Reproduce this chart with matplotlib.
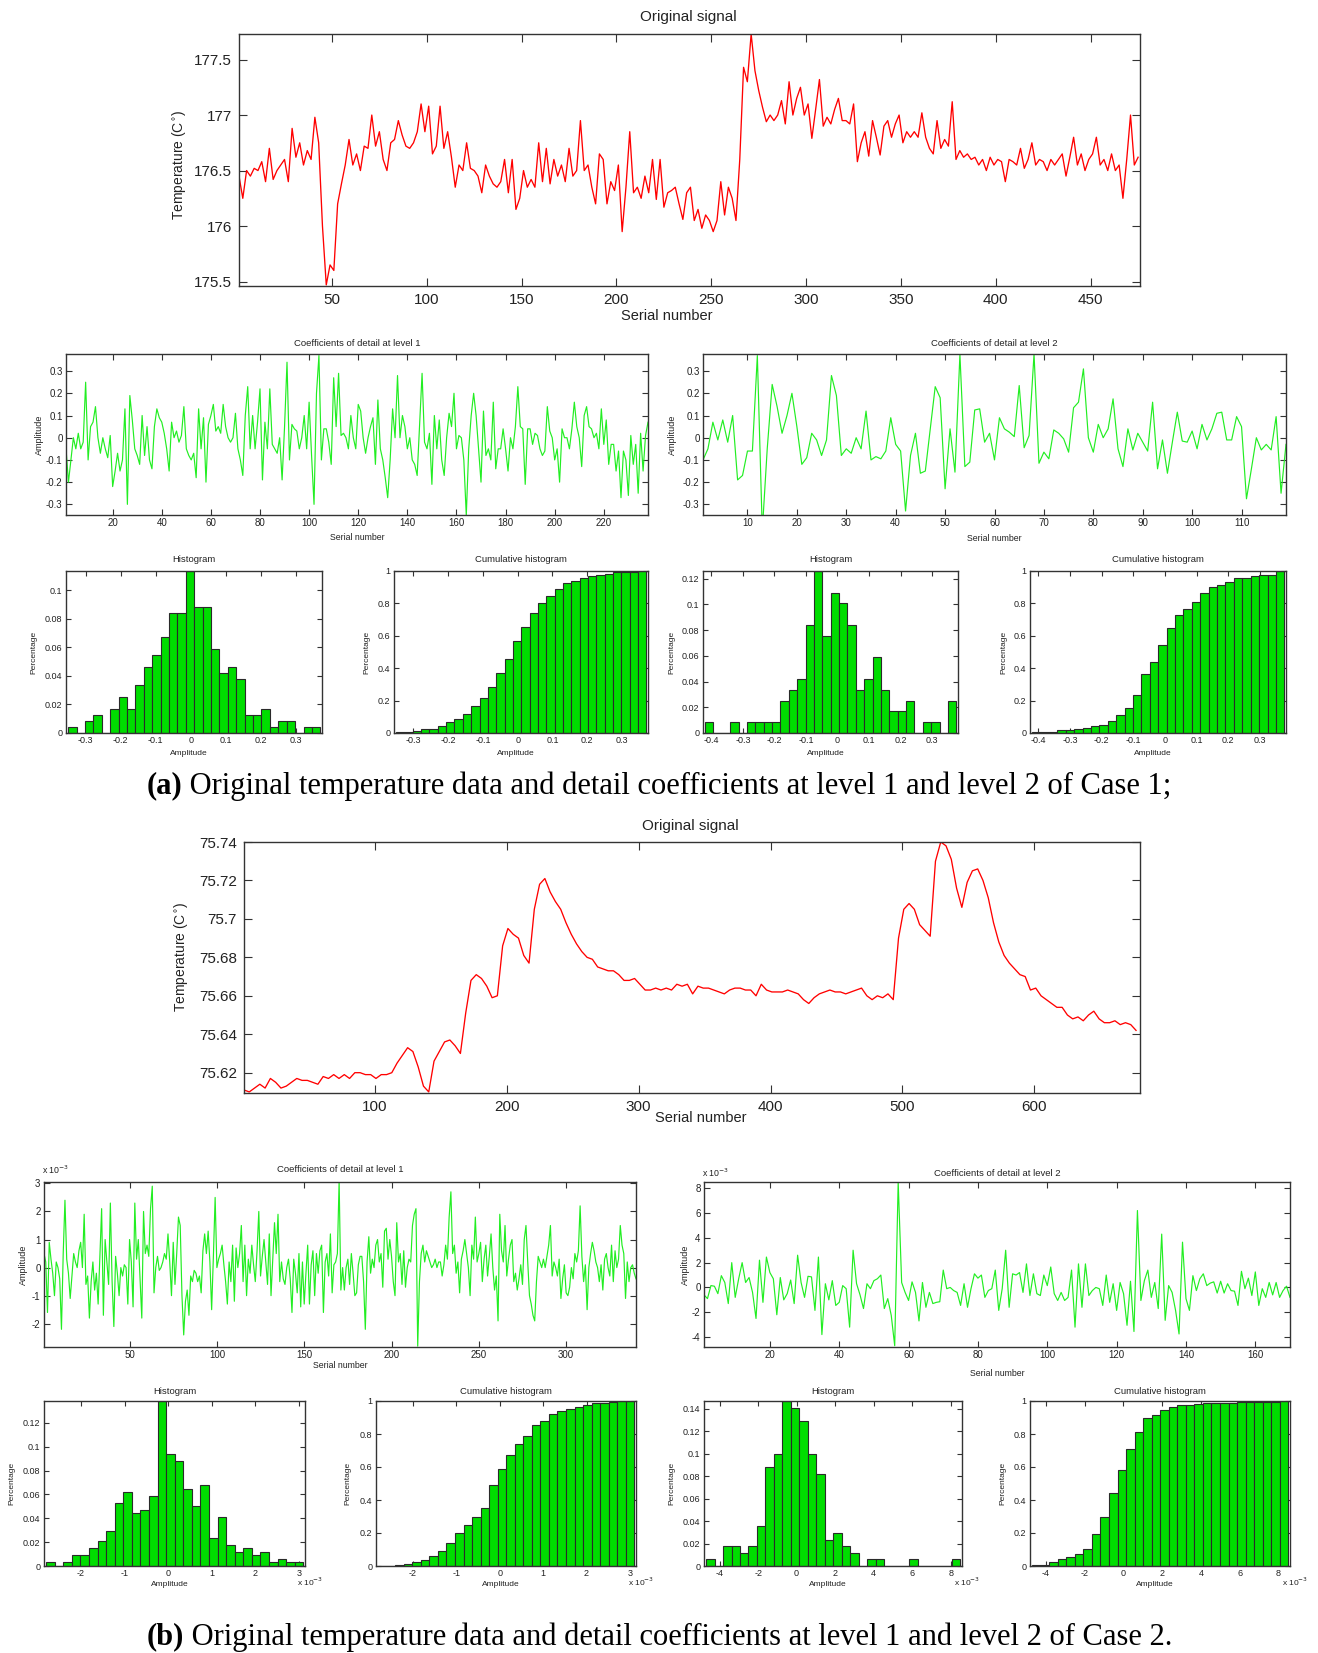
import numpy as np
import matplotlib
matplotlib.use('Agg')
import matplotlib.pyplot as plt
from matplotlib.ticker import FixedLocator, FuncFormatter

# ---------------- data ----------------
# Case 1 original signal, sampled every 2nd point starting at serial 1
orig_a = [
    176.45, 176.25, 176.50, 176.45, 176.52, 176.50, 176.58, 176.40, 176.70, 176.42,
    176.50, 176.55, 176.60, 176.40, 176.88, 176.62, 176.75, 176.55, 176.68, 176.60,
    176.98, 176.75, 176.00, 175.47, 175.65, 175.60, 176.20, 176.38, 176.55, 176.78,
    176.55, 176.65, 176.50, 176.72, 176.70, 177.00, 176.72, 176.85, 176.60, 176.50,
    176.75, 176.78, 176.95, 176.82, 176.72, 176.70, 176.75, 176.85, 177.10, 176.85,
    177.08, 176.65, 176.72, 177.08, 176.70, 176.85, 176.62, 176.35, 176.55, 176.50,
    176.75, 176.52, 176.50, 176.45, 176.30, 176.55, 176.45, 176.38, 176.35, 176.40,
    176.60, 176.30, 176.60, 176.15, 176.25, 176.50, 176.35, 176.42, 176.35, 176.75,
    176.40, 176.70, 176.38, 176.60, 176.45, 176.55, 176.40, 176.70, 176.45, 176.50,
    176.95, 176.50, 176.55, 176.35, 176.20, 176.65, 176.60, 176.20, 176.40, 176.32,
    176.55, 175.95, 176.35, 176.85, 176.30, 176.35, 176.25, 176.45, 176.30, 176.60,
    176.24, 176.60, 176.17, 176.30, 176.32, 176.35, 176.20, 176.06, 176.30, 176.35,
    176.05, 176.15, 175.98, 176.10, 176.05, 175.95, 176.05, 176.40, 176.10, 176.35,
    176.25, 176.05, 176.60, 177.43, 177.30, 177.73, 177.40, 177.22, 177.07, 176.94,
    177.00, 176.95, 177.00, 177.13, 176.92, 177.30, 177.00, 177.15, 177.25, 177.00,
    177.10, 176.79, 177.05, 177.32, 176.90, 176.98, 176.92, 177.05, 177.15, 176.95,
    176.95, 176.92, 177.10, 176.58, 176.75, 176.85, 176.63, 176.95, 176.80, 176.64,
    176.90, 176.95, 176.80, 176.92, 177.00, 176.75, 176.85, 176.80, 176.85, 176.80,
    177.02, 176.80, 176.70, 176.65, 176.95, 176.70, 176.78, 176.72, 177.12, 176.60,
    176.68, 176.62, 176.65, 176.60, 176.62, 176.55, 176.60, 176.50, 176.62, 176.55,
    176.60, 176.58, 176.40, 176.60, 176.58, 176.55, 176.70, 176.52, 176.60, 176.75,
    176.55, 176.60, 176.58, 176.50, 176.60, 176.55, 176.60, 176.65, 176.45, 176.62,
    176.80, 176.55, 176.65, 176.50, 176.60, 176.65, 176.80, 176.55, 176.60, 176.50,
    176.65, 176.50, 176.55, 176.25, 176.60, 177.00, 176.55, 176.62,
]
n_orig_a = 476

# Case 1 detail coefficients, level 1 (238) and level 2 (119)
d1_a = [
    -0.05, -0.20, -0.10, 0.00, -0.05, 0.02, -0.05, -0.02, 0.25, -0.10,
    0.05, 0.07, 0.14, 0.00, -0.07, 0.00, -0.05, -0.09, 0.01, -0.22,
    -0.15, -0.07, -0.15, -0.10, 0.13, -0.30, 0.19, 0.08, -0.05, -0.08,
    -0.12, 0.10, -0.08, 0.05, -0.10, -0.14, 0.05, 0.13, 0.09, 0.07,
    0.02, -0.05, -0.15, 0.07, 0.00, 0.03, -0.02, 0.01, 0.14, -0.05,
    -0.08, -0.10, -0.07, -0.18, 0.13, -0.05, 0.09, -0.20, 0.06, 0.10,
    0.15, 0.03, 0.05, 0.02, 0.15, 0.05, 0.00, -0.02, 0.00, 0.11,
    -0.05, -0.10, -0.17, 0.10, 0.23, -0.05, 0.10, -0.05, 0.07, 0.22,
    -0.19, 0.07, -0.05, 0.22, -0.03, -0.05, -0.07, 0.00, -0.19, 0.05,
    0.34, -0.10, 0.06, 0.04, 0.03, -0.05, 0.00, 0.10, -0.05, 0.16,
    -0.08, -0.30, 0.20, 0.37, -0.10, 0.04, 0.04, -0.02, -0.12, 0.27,
    0.05, 0.29, 0.01, 0.02, 0.00, -0.05, 0.10, 0.00, -0.05, 0.15,
    0.12, 0.00, -0.07, 0.00, 0.05, 0.09, -0.12, 0.17, -0.05, -0.10,
    -0.18, -0.27, -0.10, 0.13, 0.00, 0.28, 0.00, 0.10, 0.05, -0.05,
    0.00, -0.10, -0.12, -0.17, 0.06, 0.29, -0.02, -0.05, 0.02, -0.21,
    0.10, -0.05, 0.08, -0.10, -0.17, 0.00, 0.11, 0.05, 0.20, -0.05,
    0.01, 0.00, -0.10, -0.35, -0.05, 0.10, 0.20, 0.10, -0.05, -0.20,
    0.12, -0.08, -0.05, -0.10, 0.16, -0.14, -0.05, -0.05, 0.04, -0.05,
    -0.15, 0.00, -0.05, 0.05, 0.23, 0.05, 0.04, -0.21, 0.04, 0.04,
    -0.03, 0.02, 0.01, -0.05, -0.08, -0.06, 0.14, 0.03, 0.00, -0.10,
    -0.05, -0.20, 0.04, 0.00, 0.00, -0.05, 0.04, 0.16, 0.05, 0.00,
    -0.13, 0.10, 0.14, 0.05, 0.04, 0.00, 0.02, -0.05, 0.13, -0.03,
    0.08, -0.12, -0.03, -0.03, -0.15, -0.06, -0.27, -0.06, -0.10, -0.26,
    0.01, -0.12, -0.03, -0.25, 0.02, -0.15, 0.01, 0.07,
]
d2_a = [
    -0.10, -0.05, 0.07, -0.01, 0.08, -0.02, 0.10, -0.19, -0.17, -0.06,
    -0.06, 0.37, -0.42, -0.05, 0.24, 0.14, 0.02, 0.10, 0.20, 0.05,
    -0.12, -0.09, 0.02, -0.01, -0.08, -0.01, 0.28, 0.19, -0.08, -0.05,
    -0.07, 0.00, -0.05, 0.12, -0.10, -0.085, -0.095, -0.06, 0.09, -0.03,
    -0.06, -0.33, -0.08, 0.02, -0.16, -0.15, 0.04, 0.23, 0.18, -0.23,
    0.04, -0.155, 0.375, -0.13, -0.11, 0.125, 0.13, -0.02, 0.02, -0.10,
    0.09, 0.04, 0.025, 0.005, 0.235, -0.045, 0.01, 0.377, -0.115, -0.065,
    -0.095, 0.035, 0.02, -0.005, -0.065, 0.135, 0.16, 0.31, 0.00, -0.065,
    0.06, 0.00, 0.04, 0.175, -0.05, -0.13, 0.04, -0.055, 0.02, -0.02,
    -0.06, 0.16, -0.14, -0.01, -0.16, -0.02, 0.115, -0.015, -0.02, 0.03,
    -0.05, 0.06, -0.01, 0.04, 0.11, 0.115, -0.01, -0.01, 0.095, 0.05,
    -0.275, -0.14, 0.00, -0.055, -0.03, -0.055, 0.095, -0.25, -0.03,
]

# Case 1 histogram counts (30 bins between min and max of each detail series)
h1_a_counts = [1, 0, 2, 3, 0, 4, 6, 4, 8, 11, 13, 16, 20, 20, 27,
               21, 21, 14, 10, 11, 9, 3, 3, 4, 1, 2, 2, 0, 1, 1]
h2_a_counts = [1, 0, 0, 1, 0, 1, 1, 1, 1, 3, 4, 5, 10, 15, 9,
               13, 12, 10, 4, 5, 7, 4, 2, 2, 3, 0, 1, 1, 0, 3]

# Case 2 original signal, sampled every 4th point starting at serial 1
orig_b = [
    75.611, 75.610, 75.612, 75.614, 75.612, 75.617, 75.615, 75.612, 75.613, 75.615,
    75.617, 75.616, 75.616, 75.615, 75.614, 75.618, 75.617, 75.619, 75.617, 75.619,
    75.617, 75.620, 75.620, 75.619, 75.619, 75.617, 75.619, 75.619, 75.620, 75.625,
    75.629, 75.633, 75.631, 75.623, 75.613, 75.610, 75.626, 75.631, 75.636, 75.637,
    75.634, 75.630, 75.651, 75.668, 75.671, 75.669, 75.665, 75.659, 75.660, 75.686,
    75.695, 75.692, 75.690, 75.681, 75.677, 75.705, 75.718, 75.721, 75.714, 75.709,
    75.705, 75.698, 75.692, 75.687, 75.683, 75.680, 75.679, 75.675, 75.674, 75.673,
    75.673, 75.671, 75.668, 75.668, 75.669, 75.666, 75.663, 75.663, 75.664, 75.663,
    75.664, 75.663, 75.666, 75.665, 75.666, 75.661, 75.665, 75.664, 75.664, 75.663,
    75.662, 75.661, 75.663, 75.664, 75.664, 75.663, 75.663, 75.660, 75.666, 75.663,
    75.662, 75.662, 75.662, 75.663, 75.662, 75.661, 75.658, 75.656, 75.659, 75.661,
    75.662, 75.663, 75.662, 75.662, 75.661, 75.662, 75.663, 75.664, 75.660, 75.658,
    75.660, 75.659, 75.661, 75.658, 75.690, 75.705, 75.708, 75.705, 75.697, 75.694,
    75.691, 75.730, 75.740, 75.738, 75.731, 75.716, 75.706, 75.719, 75.725, 75.726,
    75.720, 75.711, 75.698, 75.688, 75.681, 75.677, 75.674, 75.671, 75.670, 75.663,
    75.664, 75.660, 75.658, 75.656, 75.654, 75.654, 75.650, 75.648, 75.649, 75.647,
    75.650, 75.652, 75.648, 75.646, 75.646, 75.647, 75.645, 75.646, 75.645, 75.642,
]
n_orig_b = 680

# Case 2 detail coefficients (units of 1e-3), level 1 (340) and level 2 (170)
d1_b = [
    0.5, 0.2, -1.6, 0.9, 0.3, -0.2, -1.0, 0.2, 0.0, -0.4,
    -2.2, 0.5, 2.4, 0.3, -0.2, -1.1, -0.3, 0.5, 0.2, 0.0,
    0.6, 0.9, 0.0, 1.9, -0.6, -0.3, -1.8, -0.5, 0.2, -0.8,
    -0.2, -1.3, 0.4, 2.1, -1.7, 1.0, 0.2, -0.6, 2.3, -0.5,
    -2.1, 0.4, -0.2, -1.0, 0.0, -0.3, 0.1, 0.0, -1.3, 1.0,
    0.2, -1.4, 2.3, 0.3, 1.0, -0.4, -1.8, 2.0, 0.5, 0.8,
    0.4, 2.1, 2.9, -0.9, 0.0, 0.4, -0.1, 0.0, 0.2, 0.5,
    0.3, 1.2, 0.2, -1.0, 0.9, -0.6, 0.5, 1.8, 1.5, -1.0,
    -2.4, -1.2, -0.8, -1.7, -0.3, -0.5, -0.1, -0.2, -0.5, -0.3,
    -0.9, 0.6, 1.2, 0.5, 1.3, 0.2, -1.5, 0.4, 2.5, 0.0,
    0.3, 0.5, 0.8, 0.1, -0.5, -1.3, 0.2, -0.5, 0.8, -1.2,
    0.7, 0.0, 0.5, 1.5, -0.5, 0.8, -1.0, 0.3, -0.2, 0.8,
    0.1, -0.5, 0.6, 2.0, -0.3, 0.4, 1.0, 0.2, -0.6, 1.2,
    -1.0, 0.3, 1.6, 0.5, 1.9, -0.5, 0.2, -0.4, -0.6, 0.0,
    0.3, -0.4, -1.6, 0.3, -0.2, -0.9, 0.5, -1.4, 0.2, -1.3,
    -0.2, 0.8, -1.3, 0.1, 0.6, -1.0, 0.5, -0.2, 0.6, 0.8,
    -1.6, 0.2, 0.5, -0.3, 1.2, -0.9, 0.1, 0.2, 0.5, 3.1,
    -0.8, 0.0, -0.8, 0.0, 0.3, -0.6, 0.5, -0.2, -1.0, -0.9,
    0.1, 0.4, 0.4, -0.5, -2.2, 0.2, 1.1, -0.2, 0.3, 0.0,
    0.8, 1.0, 0.2, 0.5, -0.7, 1.3, 1.4, 0.3, 1.0, 0.4,
    -0.5, -1.0, 1.6, 0.2, 0.5, -0.6, 0.6, -0.7, 0.0, 0.3,
    0.2, 1.5, 1.9, 2.1, -2.8, -0.5, 0.5, 0.8, 0.2, 0.6,
    0.4, 0.2, 0.0, 0.1, 0.3, 0.0, 0.2, 0.2, -0.3, 0.1,
    0.8, 0.3, 1.8, 2.7, 0.5, 0.8, -0.2, 0.2, -0.9, 0.3,
    0.6, 1.0, 0.5, 0.0, -1.0, 0.8, 0.3, 1.8, 0.2, 0.5,
    0.9, -0.5, 0.3, 0.8, -0.3, 0.4, 1.2, 0.0, -0.8, -0.3,
    -1.9, 1.9, 0.6, 0.2, 1.5, -0.3, 0.3, 0.8, 1.0, -0.5,
    -0.2, -0.8, -0.4, 0.1, -0.6, 1.0, 1.5, 0.2, -1.0, -1.3,
    -1.7, -1.9, -0.5, 0.4, 0.2, 0.0, 0.3, 0.0, 0.4, 0.8,
    1.5, -0.3, 0.2, 0.0, -0.3, 0.3, -1.1, -0.4, 0.1, -0.9,
    -1.0, -0.7, 0.0, -0.4, 0.5, 0.2, 0.6, 2.2, 0.4, -0.5,
    0.1, -1.5, 0.0, 0.5, 0.9, 0.6, 0.2, 0.0, -0.5, 0.1,
    -0.8, 0.3, 0.5, 0.0, -0.3, 0.8, -0.5, 0.6, 0.0, 0.3,
    1.5, 0.8, 0.5, -1.1, 0.2, -0.5, 0.0, 0.1, -0.2, -0.4,
]
d2_b = [
    -0.6, -0.9, 0.15, 0.1, -0.5, 0.95, 0.4, -1.3, 2.0, -0.8,
    0.7, 2.0, 0.4, 0.8, -0.4, -2.5, 2.2, -1.2, 2.45, 1.2,
    0.7, -2.2, 0.8, -1.0, -0.5, 0.6, -1.3, 2.6, 0.4, -0.8,
    0.9, 0.85, -1.85, 2.45, -3.8, 0.3, -1.0, 0.55, -1.45, -1.2,
    0.15, -0.1, -3.2, 3.0, 0.3, -0.6, -1.7, 0.3, -0.1, 0.55,
    0.7, 1.0, -1.7, -0.9, -2.25, -4.7, 8.5, 0.4, -0.4, -1.05,
    0.45, -0.4, -2.7, 0.4, -1.6, -0.4, -1.3, -1.2, -1.15, 1.4,
    -0.1, 0.0, -0.25, -0.4, -1.45, 0.3, -1.6, -0.1, 1.1, 0.75,
    1.0, -0.8, -0.25, -0.1, 1.4, -1.85, -0.1, 3.0, -1.6, 1.1,
    1.0, 1.2, -0.4, 1.9, -0.65, 1.1, -0.5, -0.65, 1.0, 0.15,
    1.65, -0.5, -1.05, -0.4, -1.05, -0.8, 1.4, -3.2, 1.9, -1.6,
    1.9, -0.65, -0.25, 0.0, -0.1, -1.45, 1.0, -1.2, 0.3, -1.85,
    0.4, -0.5, -3.05, 0.5, -3.55, 6.2, -1.05, 0.55, 1.4, -0.8,
    0.4, -1.7, 4.3, -2.65, 0.15, -0.4, -1.85, -3.75, 3.65, -0.9,
    -1.85, 0.95, -0.25, 0.7, 1.1, 0.15, 0.35, 0.45, -0.45, 0.5,
    -0.45, 0.3, -0.25, -0.3, -1.45, 1.3, -0.1, 0.75, -0.65, 1.25,
    -1.45, -0.1, -0.8, 0.4, -0.6, 0.4, -0.8, -0.25, 0.1, -0.8,
]

h1_b_counts = [1, 0, 1, 3, 3, 5, 7, 10, 18, 21, 15, 16, 20, 47, 32,
               30, 22, 17, 23, 8, 14, 6, 4, 5, 3, 4, 1, 2, 1, 1]
h2_b_counts = [1, 0, 3, 3, 2, 3, 6, 15, 17, 25, 24, 22, 17, 14, 4,
               5, 3, 2, 0, 1, 1, 0, 0, 0, 1, 0, 0, 0, 0, 1]

# tick values
xt_orig_a = [50, 100, 150, 200, 250, 300, 350, 400, 450]
yt_orig_a = [175.5, 176, 176.5, 177, 177.5]
xt_orig_b = [100, 200, 300, 400, 500, 600]
yt_orig_b = [75.62, 75.64, 75.66, 75.68, 75.70, 75.72, 75.74]

# ---------------- figure ----------------
W, H = 1318, 1653
fig = plt.figure(figsize=(W / 100, H / 100), dpi=100)
plt.rcParams['font.family'] = ['Liberation Sans', 'DejaVu Sans']

RED = '#ff0000'
GREEN_LINE = '#22ee22'
BAR_FACE = '#00dd00'
BAR_EDGE = '#2a2a2a'
TXT = '#222222'

gfmt = FuncFormatter(lambda v, p: ('%g' % round(v, 6)))


def add_ax(l, r, t, b):
    return fig.add_axes([l / W, 1 - b / H, (r - l) / W, (b - t) / H])


def ftext(x, y, s, **kw):
    kw.setdefault('ha', 'center')
    kw.setdefault('va', 'center')
    kw.setdefault('color', TXT)
    return fig.text(x / W, 1 - y / H, s, **kw)


def style(ax, fs, length=4, pad=2.5):
    for sp in ax.spines.values():
        sp.set_color('#333333')
        sp.set_linewidth(1.0)
    ax.tick_params(direction='in', top=True, right=True, labelsize=fs,
                   colors='#333333', labelcolor=TXT, length=length,
                   width=0.8, pad=pad)
    ax.xaxis.set_major_formatter(gfmt)
    ax.yaxis.set_major_formatter(gfmt)


# ---- original signals ----
def orig_plot(box, vals, step, n, xt, yt, title_xy, xl_xy, yl_xy, tick_fs):
    ax = add_ax(*box)
    v = np.asarray(vals)
    x = 1 + step * np.arange(len(v))
    ax.plot(x, v, color=RED, lw=0.95)
    ax.set_xlim(1, n)
    ax.set_ylim(v.min() - 0.01 * (v.max() - v.min()) / 2.3, v.max())
    ax.xaxis.set_major_locator(FixedLocator(xt))
    ax.yaxis.set_major_locator(FixedLocator(yt))
    style(ax, tick_fs, length=6, pad=5)
    ftext(*title_xy, 'Original signal', fontsize=11)
    ftext(*xl_xy, 'Serial number', fontsize=10.5)
    ftext(*yl_xy, 'Temperature (C$^{\\circ}$)', fontsize=10, rotation=90)
    return ax


orig_plot((239, 1140, 34, 286), orig_a, 2, n_orig_a, xt_orig_a, yt_orig_a,
          (688, 17), (667, 316), (179, 165), 11)
orig_plot((244, 1140, 842, 1093), orig_b, 4, n_orig_b, xt_orig_b, yt_orig_b,
          (690, 826), (701, 1118), (181, 957), 11)


# ---- detail coefficient plots ----
def detail_plot(box, vals, ylim, xt, yt, level, title_y, xl_y, yl_x, sci=False):
    ax = add_ax(*box)
    v = np.asarray(vals)
    x = np.arange(1, len(v) + 1)
    ax.plot(x, v, color=GREEN_LINE, lw=0.85)
    ax.set_xlim(1, len(v))
    ax.set_ylim(*ylim)
    ax.xaxis.set_major_locator(FixedLocator(xt))
    ax.yaxis.set_major_locator(FixedLocator(yt))
    style(ax, 7, length=4, pad=2.5)
    cx = (box[0] + box[1]) / 2
    cy = (box[2] + box[3]) / 2
    ftext(cx, title_y, 'Coefficients of detail at level %d' % level, fontsize=6.8)
    ftext(cx, xl_y, 'Serial number', fontsize=6.3)
    ftext(yl_x, cy, 'Amplitude', fontsize=6.5, rotation=90)
    if sci:
        ftext(box[0] - 2, title_y, 'x 10$^{-3}$', fontsize=6.3, ha='left')
    return ax


d1a = np.asarray(d1_a)
ylim_a = (d1a.min() + 0.002, d1a.max() + 0.007)
detail_plot((66, 648, 354, 515), d1_a, ylim_a, range(20, 221, 20),
            [-0.3, -0.2, -0.1, 0, 0.1, 0.2, 0.3], 1, 343, 537, 39)
detail_plot((703, 1286, 354, 515), d2_a, ylim_a, range(10, 111, 10),
            [-0.3, -0.2, -0.1, 0, 0.1, 0.2, 0.3], 2, 343, 538, 672)
d1b = np.asarray(d1_b)
d2b = np.asarray(d2_b)
detail_plot((44, 636, 1182, 1347), d1_b, (d1b.min() - 0.03, d1b.max() - 0.05),
            range(50, 301, 50), [-2, -1, 0, 1, 2, 3], 1, 1170, 1365, 23, sci=True)
detail_plot((704, 1290, 1182, 1347), d2_b, (d2b.min() - 0.1, d2b.max()),
            range(20, 161, 20), [-4, -2, 0, 2, 4, 6, 8], 2, 1173, 1373, 685, sci=True)


# ---- histograms ----
def hist_plot(box, series, counts, cumulative, xt, yt, title_y, xl_y, yl_x, sci=False):
    ax = add_ax(*box)
    s = np.asarray(series)
    c = np.asarray(counts, dtype=float)
    frac = c / c.sum()
    heights = np.cumsum(frac) if cumulative else frac
    edges = np.linspace(s.min(), s.max(), len(c) + 1)
    w = edges[1] - edges[0]
    centers = (edges[:-1] + edges[1:]) / 2
    ax.bar(centers, heights, width=w, color=BAR_FACE, edgecolor=BAR_EDGE,
           linewidth=0.8, align='center', zorder=2)
    ax.set_xlim(edges[0] - 0.25 * w, edges[-1] + 0.2 * w)
    ax.set_ylim(0, heights.max())
    ax.xaxis.set_major_locator(FixedLocator(xt))
    ax.yaxis.set_major_locator(FixedLocator(yt))
    style(ax, 6.5, length=3.5, pad=2.5)
    cx = (box[0] + box[1]) / 2
    cy = (box[2] + box[3]) / 2
    ftext(cx, title_y, 'Cumulative histogram' if cumulative else 'Histogram', fontsize=6.8)
    ftext(cx - 5, xl_y, 'Amplitude', fontsize=6)
    ftext(yl_x, cy, 'Percentage', fontsize=6, rotation=90)
    if sci:
        ftext(box[1] - 8, box[3] + 16, 'x 10$^{-3}$', fontsize=6, ha='left')
    return ax


xt_ha = [-0.3, -0.2, -0.1, 0, 0.1, 0.2, 0.3]
xt_ha2 = [-0.4, -0.3, -0.2, -0.1, 0, 0.1, 0.2, 0.3]
yt_cum = [0, 0.2, 0.4, 0.6, 0.8, 1]
hist_plot((66, 322, 571, 733), d1_a, h1_a_counts, False, xt_ha,
          [0, 0.02, 0.04, 0.06, 0.08, 0.1], 560, 753, 34)
hist_plot((394, 648, 571, 733), d1_a, h1_a_counts, True, xt_ha,
          yt_cum, 560, 753, 367)
hist_plot((703, 958, 571, 733), d2_a, h2_a_counts, False, xt_ha2,
          [0, 0.02, 0.04, 0.06, 0.08, 0.1, 0.12], 560, 753, 672)
hist_plot((1030, 1286, 571, 733), d2_a, h2_a_counts, True, xt_ha2,
          yt_cum, 560, 753, 1004)

hist_plot((44, 305, 1401, 1566), d1_b, h1_b_counts, False, [-2, -1, 0, 1, 2, 3],
          [0, 0.02, 0.04, 0.06, 0.08, 0.1, 0.12], 1392, 1585, 12, sci=True)
hist_plot((376, 636, 1401, 1566), d1_b, h1_b_counts, True, [-2, -1, 0, 1, 2, 3],
          yt_cum, 1392, 1585, 348, sci=True)
hist_plot((704, 962, 1401, 1566), d2_b, h2_b_counts, False, [-4, -2, 0, 2, 4, 6, 8],
          [0, 0.02, 0.04, 0.06, 0.08, 0.1, 0.12, 0.14], 1392, 1585, 672, sci=True)
hist_plot((1030, 1290, 1401, 1566), d2_b, h2_b_counts, True, [-4, -2, 0, 2, 4, 6, 8],
          yt_cum, 1392, 1585, 1003, sci=True)


# ---- captions ----
def caption(y, bold, rest, fs=22):
    r = fig.canvas.get_renderer()
    t1 = fig.text(0, 1 - y / H, bold, fontsize=fs, fontweight='bold',
                  family='Liberation Serif', va='center', ha='left', color='black')
    t2 = fig.text(0, 1 - y / H, rest, fontsize=fs, family='Liberation Serif',
                  va='center', ha='left', color='black')
    w1 = t1.get_window_extent(r).width
    w2 = t2.get_window_extent(r).width
    x0 = 659 - (w1 + w2) / 2
    t1.set_x(x0 / W)
    t2.set_x((x0 + w1) / W)


caption(786, '(a)', ' Original temperature data and detail coefficients at level 1 and level 2 of Case 1;')
caption(1637, '(b)', ' Original temperature data and detail coefficients at level 1 and level 2 of Case 2.')

fig.savefig('out.png', dpi=100, facecolor='white')
